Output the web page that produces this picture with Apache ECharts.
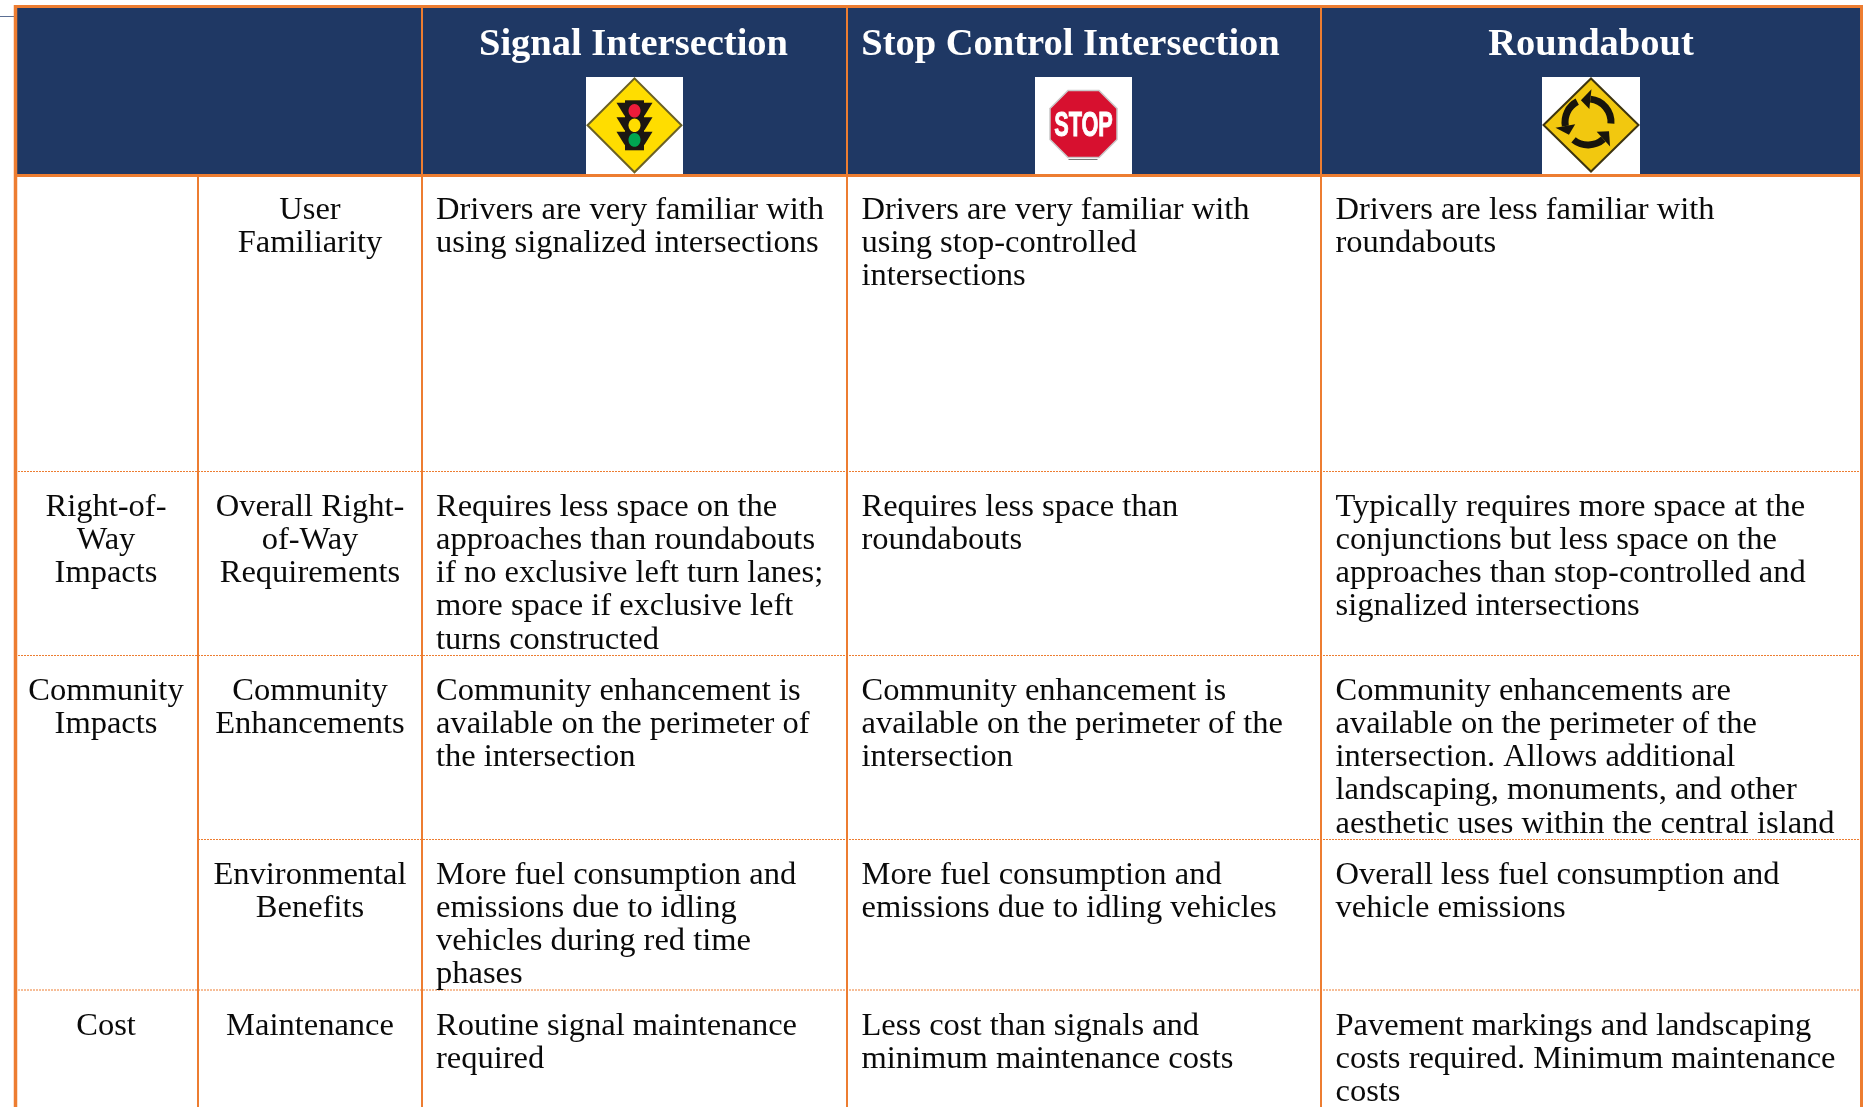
<!doctype html>
<html lang="en" style="height: 100%">
    <head>
        <meta charset="utf-8">
        <title>Intersection comparison</title>
        <script src="https://cdn.jsdelivr.net/npm/echarts@6/dist/echarts.min.js"></script>
        <style>
            body { margin: 0; background: #fff; }
            #draw { width: 1867px; height: 1107px; }
        </style>
    </head>
    <body>
        <div id="draw"></div>
        <script>
            // table content
            const headers = ['Signal Intersection', 'Stop Control Intersection', 'Roundabout']
            const groups = ['', 'Right-of-\nWay\nImpacts', 'Community\nImpacts', '', 'Cost']
            const criteria = [
                'User\nFamiliarity',
                'Overall Right-\nof-Way\nRequirements',
                'Community\nEnhancements',
                'Environmental\nBenefits',
                'Maintenance'
            ]
            const signal = [
                'Drivers are very familiar with\nusing signalized intersections',
                'Requires less space on the\napproaches than roundabouts\nif no exclusive left turn lanes;\nmore space if exclusive left\nturns constructed',
                'Community enhancement is\navailable on the perimeter of\nthe intersection',
                'More fuel consumption and\nemissions due to idling\nvehicles during red time\nphases',
                'Routine signal maintenance\nrequired'
            ]
            const stopControl = [
                'Drivers are very familiar with\nusing stop-controlled\nintersections',
                'Requires less space than\nroundabouts',
                'Community enhancement is\navailable on the perimeter of the\nintersection',
                'More fuel consumption and\nemissions due to idling vehicles',
                'Less cost than signals and\nminimum maintenance costs'
            ]
            const roundabout = [
                'Drivers are less familiar with\nroundabouts',
                'Typically requires more space at the\nconjunctions but less space on the\napproaches than stop-controlled and\nsignalized intersections',
                'Community enhancements are\navailable on the perimeter of the\nintersection. Allows additional\nlandscaping, monuments, and other\naesthetic uses within the central island',
                'Overall less fuel consumption and\nvehicle emissions',
                'Pavement markings and landscaping\ncosts required. Minimum maintenance\ncosts'
            ]

            // layout, in page pixels
            const orange = '#ED7D31'
            const navy = '#1F3864'
            const colLines = [198, 422, 847, 1321]
            const rowLines = [471.5, 655.5, 839.5, 990]
            const rowFirstLine = [210, 507, 691, 875, 1026]
            const pitch = 33.3
            const bodyFont = '32.5px "Liberation Serif"'
            const headFont = 'bold 38.5px "Liberation Serif"'
            const elements = []

            function rect(x, y, w, h, fill) {
                elements.push({type: 'rect', shape: {x: x, y: y, width: w, height: h}, style: {fill: fill}})
            }
            function line(x1, y1, x2, y2, width, dash) {
                elements.push({type: 'line', shape: {x1: x1, y1: y1, x2: x2, y2: y2},
                    style: {stroke: orange, lineWidth: width, lineDash: dash || null}})
            }
            function poly(points, fill, stroke, width) {
                elements.push({type: 'polygon', shape: {points: points},
                    style: {fill: fill, stroke: stroke || null, lineWidth: width || 0}})
            }
            function label(str, x, y, font, fill, align) {
                elements.push({type: 'text', style: {text: str, x: x, y: y, font: font, fill: fill,
                    textAlign: align, textVerticalAlign: 'middle'}})
            }
            function cell(str, x, row, align) {
                str.split('\n').forEach((s, i) => {
                    label(s, x, rowFirstLine[row] + i * pitch, bodyFont, '#0a0a0a', align)
                })
            }

            // header band
            rect(15, 7, 1846, 169, navy)
            rect(0, 16, 14, 1, '#5B6F94')

            // dotted row lines
            line(15, rowLines[0], 1861, rowLines[0], 1, [2, 1])
            line(15, rowLines[1], 1861, rowLines[1], 1, [2, 1])
            line(colLines[0], rowLines[2], 1861, rowLines[2], 1, [2, 1])
            line(15, rowLines[3], 1861, rowLines[3], 1, [2, 1])

            // solid borders
            line(15.5, 5, 15.5, 1107, 3.5)
            line(1861.5, 5, 1861.5, 1107, 3)
            line(14, 6.5, 1863, 6.5, 3)
            line(14, 175.5, 1863, 175.5, 3)
            line(colLines[0], 176, colLines[0], 1107, 2)
            line(colLines[1], 6, colLines[1], 1107, 2)
            line(colLines[2], 6, colLines[2], 1107, 2)
            line(colLines[3], 6, colLines[3], 1107, 2)

            // signs
            function diamond(cx, cy, rx, ry, fill, edge) {
                poly([[cx - rx, cy], [cx, cy - ry], [cx + rx, cy], [cx, cy + ry]], fill, edge, 2)
            }
            function trafficSign(cx, cy) {
                rect(586, 77, 97, 97, '#fff')
                diamond(cx, cy, 47, 47, '#FFDD00', '#6B6125')
                rect(cx - 9.5, cy - 25, 19, 50, '#1C1712')
                ;[-14.5, 0, 14.5].forEach(d => {
                    poly([[cx - 18, cy + d - 8], [cx + 18, cy + d - 8], [cx + 10, cy + d + 5], [cx - 10, cy + d + 5]], '#1C1712')
                })
                const lamps = ['#EE1C3A', '#FFDD00', '#00A651']
                lamps.forEach((c, i) => {
                    elements.push({type: 'ellipse', shape: {cx: cx, cy: cy + (i - 1) * 14.6, rx: 6, ry: 6.8}, style: {fill: c}})
                })
            }
            function stopSign(cx, cy) {
                rect(1035, 77, 97, 97, '#fff')
                const r = 33.5, c = 15.5
                poly([[cx - c, cy - r], [cx + c, cy - r], [cx + r, cy - c], [cx + r, cy + c],
                    [cx + c, cy + r], [cx - c, cy + r], [cx - r, cy + c], [cx - r, cy - c]], '#D7102F', '#C9C9C9', 1.5)
                rect(cx - 15, cy + 35, 29, 1, '#777')
                elements.push({type: 'text', scaleX: 0.62, originX: cx, originY: cy + 2, style: {text: 'STOP', x: cx, y: cy + 2,
                    font: 'bold 35px "Liberation Sans"', fill: '#fff', stroke: '#fff', lineWidth: 1,
                    textAlign: 'center', textVerticalAlign: 'middle'}})
            }
            function roundSign(cx, cy) {
                rect(1542, 77, 98, 97, '#fff')
                diamond(cx, cy, 47.5, 46.5, '#F2C80F', '#3E3510')
                const deg = Math.PI / 180
                const ring = 23
                const ox = cx - 3, oy = cy - 3
                // tail, head base and tip angles, counter-clockwise on screen
                ;[[-4, 84, 108], [118, 190, 214], [231, 312, 336]].forEach(a => {
                    const tail = -a[0] * deg, base = -a[1] * deg, tip = -a[2] * deg
                    elements.push({type: 'sector', shape: {cx: ox, cy: oy, r: ring + 3.5, r0: ring - 3.5,
                        startAngle: base, endAngle: tail, clockwise: true}, style: {fill: '#17140C'}})
                    poly([
                        [ox + (ring - 10) * Math.cos(base), oy + (ring - 10) * Math.sin(base)],
                        [ox + (ring + 10) * Math.cos(base), oy + (ring + 10) * Math.sin(base)],
                        [ox + ring * Math.cos(tip), oy + ring * Math.sin(tip)]
                    ], '#17140C')
                })
            }
            trafficSign(634.5, 125.3)
            stopSign(1083.5, 124)
            roundSign(1591, 125)

            // header text
            label(headers[0], 633.5, 45.5, headFont, '#fff', 'center')
            label(headers[1], 1070.5, 45.5, headFont, '#fff', 'center')
            label(headers[2], 1591, 45.5, headFont, '#fff', 'center')

            // body text
            for (let i = 0; i < criteria.length; i++) {
                if (groups[i]) cell(groups[i], 106, i, 'center')
                cell(criteria[i], 310, i, 'center')
                cell(signal[i], 436, i, 'left')
                cell(stopControl[i], 861.5, i, 'left')
                cell(roundabout[i], 1335.5, i, 'left')
            }

            var myChart = echarts.init(document.getElementById('draw'))
            myChart.setOption({
                backgroundColor: '#fff',
                animation: false,
                graphic: {elements: elements}
            })
        </script>
    </body>
</html>
